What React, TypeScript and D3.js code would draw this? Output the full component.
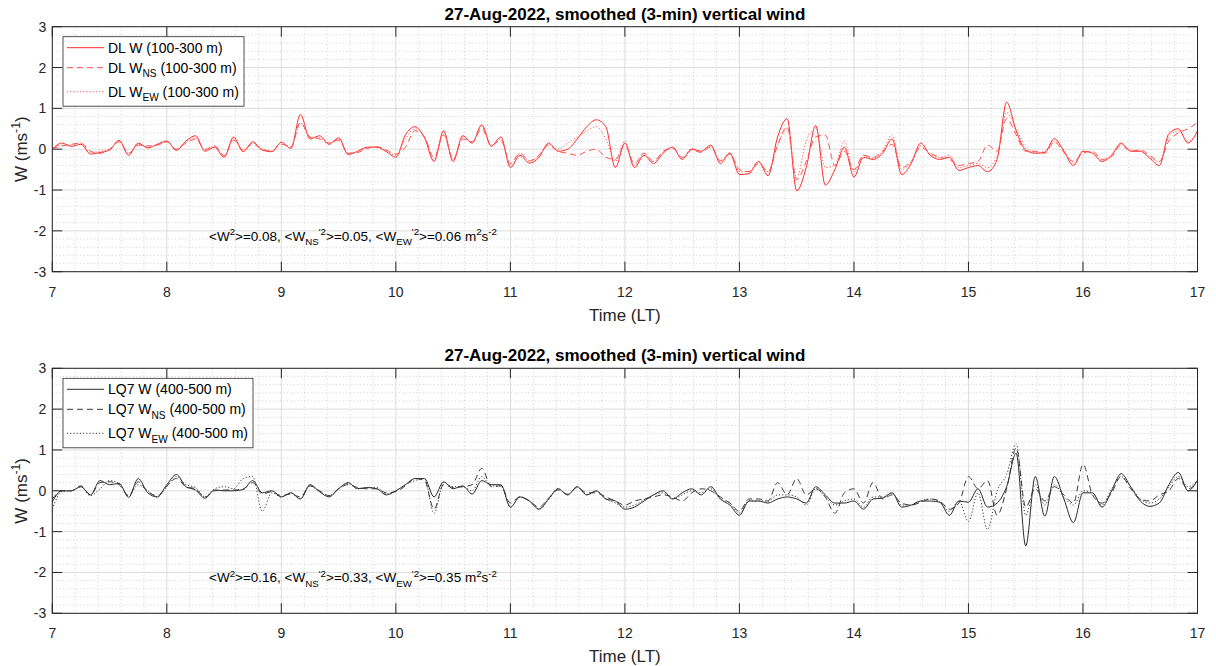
import React from 'react';
import * as d3 from 'd3';

// 5-min samples from 07:00 to 17:00 LT (one row per hour)
const STEP_MIN = 5;

const dlW = [
  0.00, 0.15, 0.07, 0.12, -0.12, -0.08, -0.02, 0.22, -0.15, 0.15, 0.03, 0.12,
  0.20, -0.03, 0.20, 0.33, -0.05, 0.05, -0.20, 0.30, -0.06, 0.18, -0.02, -0.06,
  0.17, 0.02, 0.85, 0.25, 0.33, 0.12, 0.28, -0.13, -0.05, 0.05, 0.05, -0.06,
  -0.20, 0.35, 0.55, 0.28, -0.30, 0.45, -0.30, 0.33, 0.15, 0.60, 0.07, 0.30,
  -0.45, -0.15, -0.34, -0.20, 0.15, -0.05, 0.00, 0.25, 0.55, 0.72, 0.55, -0.45,
  0.15, -0.45, -0.15, -0.35, -0.10, 0.05, -0.25, 0.00, -0.05, 0.10, -0.35, -0.10,
  -0.62, -0.60, -0.30, -0.65, 0.30, 0.75, -1.02, -0.45, 0.58, -0.88, -0.50, 0.05,
  -0.68, -0.20, -0.25, -0.10, 0.25, -0.62, -0.35, 0.15, -0.15, -0.25, -0.20, -0.52,
  -0.45, -0.40, -0.55, -0.25, 1.15, 0.45, -0.02, -0.10, -0.08, 0.26, -0.05, -0.40,
  -0.05, -0.10, -0.30, -0.15, 0.15, -0.05, -0.05, -0.22, -0.40, 0.38, 0.50, 0.15,
  0.45,
];
const dlWns = [
  0.02, 0.08, 0.12, 0.15, -0.05, -0.10, 0.00, 0.18, -0.10, 0.10, 0.08, 0.10,
  0.18, 0.00, 0.15, 0.25, 0.00, 0.08, -0.15, 0.22, -0.02, 0.12, 0.00, -0.05,
  0.12, 0.05, 0.65, 0.30, 0.25, 0.15, 0.22, -0.10, -0.08, 0.02, 0.06, -0.02,
  -0.12, 0.05, 0.45, 0.30, -0.20, 0.35, -0.25, 0.25, 0.18, 0.50, 0.10, 0.22,
  -0.35, -0.10, -0.28, -0.15, 0.10, -0.05, -0.10, -0.15, -0.05, 0.00, -0.20, -0.25,
  0.10, -0.35, -0.10, -0.30, -0.05, 0.02, -0.20, -0.02, -0.08, 0.05, -0.28, -0.12,
  -0.50, -0.55, -0.35, -0.55, 0.10, 0.55, -0.75, -0.30, 0.30, 0.35, -0.40, -0.05,
  -0.50, -0.15, -0.20, -0.05, 0.12, -0.45, -0.30, 0.05, -0.10, -0.20, -0.25, -0.40,
  -0.35, -0.30, 0.10, -0.05, 0.75, 0.35, -0.05, -0.05, -0.10, 0.18, -0.08, -0.30,
  -0.10, -0.05, -0.25, -0.18, 0.10, -0.05, -0.02, -0.15, -0.30, 0.20, 0.40, 0.50,
  0.65,
];
const dlWew = [
  0.02, 0.10, 0.10, 0.15, -0.08, -0.05, 0.00, 0.20, -0.10, 0.12, 0.05, 0.10,
  0.18, 0.00, 0.18, 0.28, -0.02, 0.08, -0.18, 0.25, -0.02, 0.15, 0.00, -0.04,
  0.15, 0.05, 0.65, 0.30, 0.28, 0.15, 0.25, -0.10, -0.06, 0.04, 0.06, -0.04,
  -0.15, 0.25, 0.50, 0.30, -0.25, 0.40, -0.25, 0.30, 0.18, 0.55, 0.10, 0.25,
  -0.40, -0.10, -0.30, -0.15, 0.12, 0.00, 0.15, 0.30, 0.45, 0.55, 0.25, -0.30,
  0.20, -0.40, -0.10, -0.30, -0.08, 0.05, -0.22, 0.02, -0.05, 0.08, -0.30, -0.08,
  -0.55, -0.55, -0.30, -0.55, 0.10, 0.50, -0.70, 0.20, 0.50, -0.45, -0.40, 0.20,
  -0.55, -0.15, -0.22, -0.05, 0.35, -0.50, -0.30, 0.08, -0.12, -0.20, -0.15, -0.45,
  -0.40, -0.35, -0.45, -0.15, 0.90, 0.50, 0.05, -0.08, -0.05, 0.20, -0.02, -0.35,
  -0.05, -0.08, -0.28, -0.12, 0.12, -0.02, -0.05, -0.20, -0.30, 0.30, 0.45, 0.20,
  0.40,
];

const lqW = [
  -0.27, 0.00, 0.00, 0.10, -0.10, 0.25, 0.15, 0.18, -0.16, 0.30, -0.05, -0.15,
  0.15, 0.40, 0.10, 0.02, -0.18, 0.02, 0.00, 0.00, 0.03, 0.25, -0.05, 0.00,
  -0.15, -0.05, -0.20, 0.15, -0.02, -0.15, 0.05, 0.20, 0.05, 0.08, 0.05, -0.10,
  0.00, 0.15, 0.30, 0.30, -0.15, 0.22, 0.05, 0.12, -0.08, 0.25, 0.15, 0.15,
  -0.40, -0.15, -0.25, -0.45, -0.20, 0.05, -0.10, 0.10, -0.10, 0.00, -0.20, -0.25,
  -0.45, -0.40, -0.25, -0.10, 0.00, -0.20, -0.05, 0.05, -0.10, 0.10, -0.20, -0.35,
  -0.60, -0.25, -0.25, -0.30, -0.20, -0.15, -0.20, -0.30, 0.10, -0.10, -0.30, -0.30,
  -0.25, -0.45, -0.20, -0.18, -0.05, -0.40, -0.35, -0.25, -0.25, -0.28, -0.60, -0.25,
  -0.28, 0.05, -0.40, -0.30, 0.10, 0.92, -1.35, 0.35, -0.62, 0.35, -0.20, -0.78,
  -0.05, -0.05, -0.40, 0.00, 0.42, 0.10, -0.25, -0.38, -0.30, 0.15, 0.45, 0.00,
  0.26,
];
const lqWns = [
  -0.20, 0.00, 0.00, 0.12, -0.10, 0.20, 0.22, 0.15, -0.12, 0.22, -0.02, -0.12,
  0.12, 0.30, 0.10, 0.05, -0.15, 0.00, 0.02, 0.02, 0.05, 0.20, -0.08, -0.02,
  -0.12, -0.08, -0.15, 0.12, 0.00, -0.12, 0.05, 0.15, 0.08, 0.05, 0.05, -0.05,
  -0.02, 0.12, 0.30, 0.25, -0.45, 0.15, 0.08, 0.10, 0.15, 0.55, 0.10, 0.12,
  -0.30, -0.15, -0.25, -0.40, -0.18, 0.02, -0.08, 0.08, -0.05, -0.05, -0.15, -0.25,
  -0.35, -0.25, -0.20, -0.15, -0.10, -0.15, -0.25, -0.05, 0.05, 0.00, -0.15, -0.30,
  -0.50, -0.20, -0.20, -0.25, 0.20, -0.10, 0.30, -0.10, 0.05, -0.15, -0.55, -0.05,
  0.05, -0.30, 0.20, -0.20, -0.10, -0.30, -0.35, -0.28, -0.20, -0.25, -0.45, -0.30,
  0.35, 0.05, 0.25, -0.60, 0.05, 1.05, -0.40, 0.05, -0.25, 0.10, -0.10, -0.30,
  0.65, -0.10, -0.30, -0.05, 0.35, 0.05, -0.20, -0.25, -0.10, 0.00, 0.30, 0.05,
  0.20,
];
const lqWew = [
  -0.45, -0.02, 0.00, 0.10, -0.12, 0.05, 0.25, 0.18, -0.12, 0.15, 0.00, -0.15,
  0.10, 0.35, 0.15, 0.08, -0.15, 0.05, 0.10, 0.05, 0.30, 0.35, -0.50, -0.05,
  -0.15, -0.05, -0.20, 0.12, -0.02, -0.12, 0.05, 0.18, 0.05, 0.08, 0.08, -0.08,
  0.00, 0.15, 0.25, 0.30, -0.55, 0.20, 0.10, 0.10, 0.00, 0.35, 0.12, 0.12,
  -0.40, -0.15, -0.25, -0.45, -0.22, 0.05, -0.10, 0.10, -0.10, -0.02, -0.20, -0.30,
  -0.40, -0.35, -0.22, -0.10, -0.05, -0.20, -0.10, 0.00, -0.05, 0.05, -0.20, -0.30,
  -0.55, -0.25, -0.25, -0.25, -0.10, -0.10, -0.15, -0.35, 0.05, -0.15, -0.35, -0.25,
  -0.20, -0.40, -0.15, -0.15, -0.05, -0.35, -0.35, -0.25, -0.20, -0.28, -0.50, -0.25,
  -0.75, -0.05, -0.95, 0.00, 0.40, 1.15, -0.60, 0.15, -0.35, 0.15, -0.15, -0.35,
  0.00, -0.05, -0.35, 0.05, 0.35, 0.10, -0.20, -0.30, -0.20, 0.10, 0.35, 0.10,
  0.25,
];

const xTicks = [7, 8, 9, 10, 11, 12, 13, 14, 15, 16, 17];
const yTicks = [-3, -2, -1, 0, 1, 2, 3];
const TITLE = '27-Aug-2022, smoothed (3-min) vertical wind';

const FONT = '"Liberation Sans", Arial, Helvetica, sans-serif';
const INK = '#262626';

type Part = { t: string; s?: 'sub' | 'sup' };

// text with sub/superscripts through dy shifts
const rich = (parts: Part[], fs: number) => {
  let cur = 0;
  return parts.map((p, i) => {
    const target = p.s === 'sub' ? fs * 0.32 : p.s === 'sup' ? -fs * 0.4 : 0;
    const dy = target - cur;
    cur = target;
    return (
      <tspan key={i} dy={dy} fontSize={p.s ? fs * 0.72 : fs}>{p.t}</tspan>
    );
  });
};

type Series = { values: number[]; color: string; dash: string | null; label: Part[] };

const Panel = ({ top, series, legendW, stats }: {
  top: number; series: Series[]; legendW: number; stats: Part[];
}) => {
  const x0 = 52.3, x1 = 1197.5, h = 245;
  const x = d3.scaleLinear().domain([7, 17]).range([x0, x1]);
  const y = d3.scaleLinear().domain([-3, 3]).range([top + h, top]);
  const minorX = d3.range(7, 17.001, 0.2).filter(v => Math.abs(v - Math.round(v)) > 1e-6);
  const minorY = d3.range(-3, 3.001, 0.2).filter(v => Math.abs(v - Math.round(v)) > 1e-6);
  const line = d3.line<number>()
    .x((_, i) => x(7 + (i * STEP_MIN) / 60))
    .y(d => y(d))
    .curve(d3.curveMonotoneX);
  const tl = 10;

  return (
    <g fontFamily={FONT}>
      <rect x={x0} y={top} width={x1 - x0} height={h} fill="#fff" />
      {minorX.map(v => (
        <line key={'mx' + v} x1={x(v)} x2={x(v)} y1={top} y2={top + h}
          stroke="#c4c4c4" strokeWidth={0.8} strokeDasharray="1,2.5" />
      ))}
      {minorY.map(v => (
        <line key={'my' + v} x1={x0} x2={x1} y1={y(v)} y2={y(v)}
          stroke="#c4c4c4" strokeWidth={0.8} strokeDasharray="1,2.5" />
      ))}
      {xTicks.map(v => (
        <line key={'gx' + v} x1={x(v)} x2={x(v)} y1={top} y2={top + h} stroke="#dcdcdc" strokeWidth={1} />
      ))}
      {yTicks.map(v => (
        <line key={'gy' + v} x1={x0} x2={x1} y1={y(v)} y2={y(v)} stroke="#dcdcdc" strokeWidth={1} />
      ))}
      {series.map((s, i) => (
        <path key={i} d={line(s.values) || ''} fill="none" stroke={s.color}
          strokeWidth={1} strokeDasharray={s.dash || undefined} />
      ))}
      {/* ticks inside, on all four sides */}
      {xTicks.map(v => (
        <g key={'tx' + v}>
          <line x1={x(v)} x2={x(v)} y1={top + h} y2={top + h - tl} stroke={INK} />
          <line x1={x(v)} x2={x(v)} y1={top} y2={top + tl} stroke={INK} />
          <text x={x(v)} y={top + h + 25} textAnchor="middle" fontSize={14} fill={INK}>{v}</text>
        </g>
      ))}
      {yTicks.map(v => (
        <g key={'ty' + v}>
          <line x1={x0} x2={x0 + tl} y1={y(v)} y2={y(v)} stroke={INK} />
          <line x1={x1} x2={x1 - tl} y1={y(v)} y2={y(v)} stroke={INK} />
          <text x={x0 - 6} y={y(v) + 5} textAnchor="end" fontSize={14} fill={INK}>{v}</text>
        </g>
      ))}
      <rect x={x0} y={top} width={x1 - x0} height={h} fill="none" stroke={INK} strokeWidth={1} />
      <text x={(x0 + x1) / 2} y={top - 7} textAnchor="middle" fontSize={17} fontWeight="bold" fill="#000">{TITLE}</text>
      <text x={(x0 + x1) / 2} y={top + h + 49} textAnchor="middle" fontSize={17} fill={INK}>Time (LT)</text>
      <text transform={`translate(27,${top + h / 2}) rotate(-90)`} textAnchor="middle" fontSize={17} fill={INK}>
        {rich([{ t: 'W (ms' }, { t: '-1', s: 'sup' }, { t: ')' }], 17)}
      </text>
      <text x={209} y={y(-2) + 10} fontSize={13.5} fill="#000">{rich(stats, 13.5)}</text>
      {/* legend */}
      <g transform={`translate(63,${top + 10})`}>
        <rect width={legendW} height={69.5} fill="#fff" stroke={INK} strokeWidth={0.8} />
        {series.map((s, i) => {
          const ly = [11, 31, 55][i];
          return (
            <g key={i}>
              <line x1={4} x2={41} y1={ly} y2={ly} stroke={s.color} strokeWidth={1} strokeDasharray={s.dash || undefined} />
              <text x={45} y={ly + 5} fontSize={14} fill="#000">{rich(s.label, 14)}</text>
            </g>
          );
        })}
      </g>
    </g>
  );
};

const statParts = (a: string, b: string, c: string): Part[] => [
  { t: '<W' }, { t: '2', s: 'sup' }, { t: `>=${a},  <W` }, { t: 'NS', s: 'sub' }, { t: "'2", s: 'sup' },
  { t: `>=${b}, <W` }, { t: 'EW', s: 'sub' }, { t: "'2", s: 'sup' }, { t: `>=${c} m` },
  { t: '2', s: 'sup' }, { t: 's' }, { t: '-2', s: 'sup' },
];

export default function App() {
  const top: Series[] = [
    { values: dlW, color: '#ff2a2a', dash: null, label: [{ t: 'DL W (100-300 m)' }] },
    { values: dlWns, color: '#ff4d4d', dash: '6,4', label: [{ t: 'DL W' }, { t: 'NS', s: 'sub' }, { t: ' (100-300 m)' }] },
    { values: dlWew, color: '#ff5c5c', dash: '1.2,2', label: [{ t: 'DL W' }, { t: 'EW', s: 'sub' }, { t: ' (100-300 m)' }] },
  ];
  const bottom: Series[] = [
    { values: lqW, color: '#2b2b2b', dash: null, label: [{ t: 'LQ7 W (400-500 m)' }] },
    { values: lqWns, color: '#3a3a3a', dash: '6,4', label: [{ t: 'LQ7 W' }, { t: 'NS', s: 'sub' }, { t: ' (400-500 m)' }] },
    { values: lqWew, color: '#3a3a3a', dash: '1.2,2', label: [{ t: 'LQ7 W' }, { t: 'EW', s: 'sub' }, { t: ' (400-500 m)' }] },
  ];
  return (
    <svg width={1216} height={666} style={{ position: 'absolute', left: 0, top: 0, background: '#fff' }}>
      <rect width={1216} height={666} fill="#fff" />
      <Panel top={26.7} series={top} legendW={181} stats={statParts('0.08', '0.05', '0.06')} />
      <Panel top={368.3} series={bottom} legendW={190} stats={statParts('0.16', '0.33', '0.35')} />
    </svg>
  );
}
